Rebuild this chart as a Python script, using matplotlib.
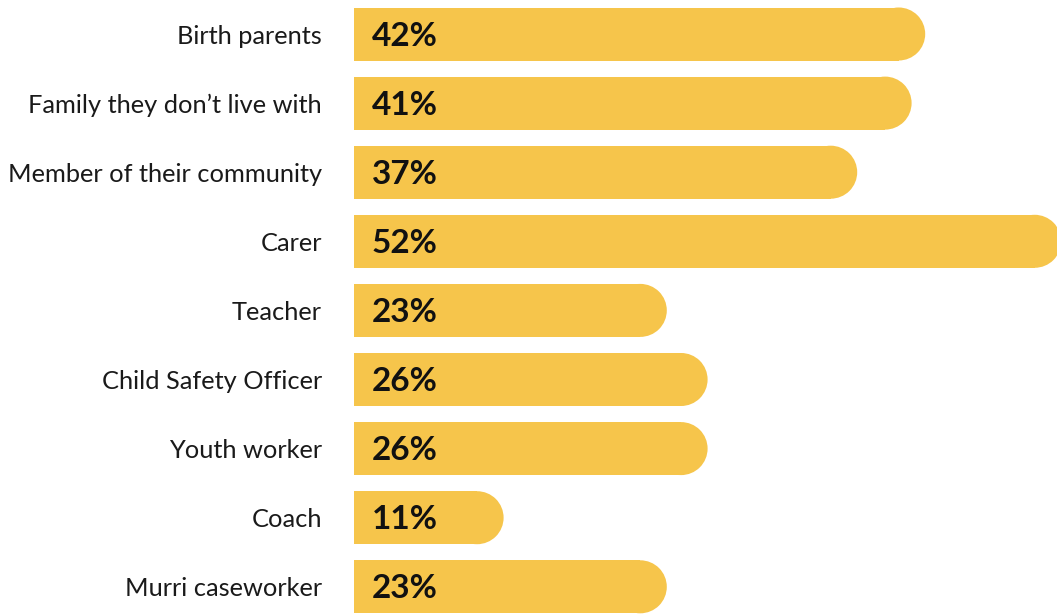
import matplotlib
matplotlib.use("Agg")
import matplotlib.pyplot as plt
from matplotlib.patches import Ellipse
import matplotlib.transforms as mtransforms

categories = ["Birth parents", "Family they don\u2019t live with", "Member of their community",
              "Carer", "Teacher", "Child Safety Officer", "Youth worker", "Coach", "Murri caseworker"]
values = [42, 41, 37, 52, 23, 26, 26, 11, 23]

BAR_COLOR = "#F6C54B"
W, H, DPI = 1057, 614, 100
px_per_unit = 13.6
x0_px = 354
row_px = 69.1
first_center_px = 34
bar_px = 53
r_px = 26.5

fig = plt.figure(figsize=(W / DPI, H / DPI), dpi=DPI)
ax = fig.add_axes([0, 0, 1, 1])
ax.set_xlim(-x0_px / px_per_unit, (W - x0_px) / px_per_unit)
top = -first_center_px / row_px
bottom = top + H / row_px
ax.set_ylim(bottom, top)
ax.axis("off")

bh = bar_px / row_px
rw = r_px / px_per_unit
tl = mtransforms.offset_copy(ax.transData, fig=fig, x=-32, y=-2, units="dots")
tp = mtransforms.offset_copy(ax.transData, fig=fig, x=18, y=-2, units="dots")
for i, (cat, v) in enumerate(zip(categories, values)):
    ax.barh(i, v - rw, left=0, height=bh, color=BAR_COLOR, edgecolor="none")
    ax.add_patch(Ellipse((v - rw, i), 2 * rw, bh, facecolor=BAR_COLOR, edgecolor="none"))
    ax.text(0, i, cat, transform=tl, ha="right", va="center", fontsize=18.3,
            family="Lato", color="#1a1a1a")
    ax.text(0, i, f"{v}%", transform=tp, ha="left", va="center", fontsize=24,
            family="Lato", fontweight="bold", color="#111111")

fig.savefig("out.png", dpi=DPI)
